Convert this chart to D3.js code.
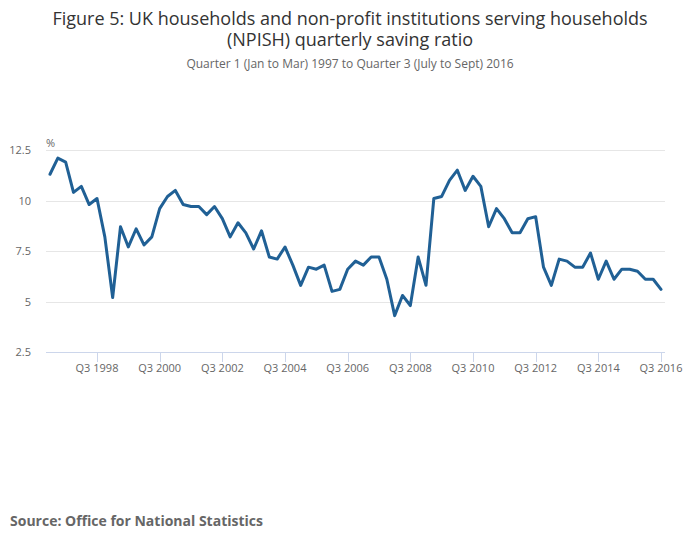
<!DOCTYPE html>
<html><head><meta charset="utf-8">
<script src="https://cdn.jsdelivr.net/npm/d3@7"></script>
<style>body{margin:0;background:#fff}svg{display:block;font-family:"Open Sans",sans-serif}</style>
</head><body><svg id="c" width="700" height="549"></svg>
<script>
const startYear = 1997;
const savingRatio = [
11.3,12.1,11.9,10.4,10.7,9.8,10.1,8.2,5.2,8.7,7.7,8.6,7.8,8.2,9.6,10.2,10.5,9.8,9.7,9.7,
9.3,9.7,9.1,8.2,8.9,8.4,7.6,8.5,7.2,7.1,7.7,6.8,5.8,6.7,6.6,6.8,5.5,5.6,6.6,7.0,
6.8,7.2,7.2,6.1,4.3,5.3,4.8,7.2,5.8,10.1,10.2,11.0,11.5,10.5,11.2,10.7,8.7,9.6,9.1,8.4,
8.4,9.1,9.2,6.7,5.8,7.1,7.0,6.7,6.7,7.4,6.1,7.0,6.1,6.6,6.6,6.5,6.1,6.1,5.6
];
const quarters = savingRatio.map((d,i)=>"Q"+(i%4+1)+" "+(startYear+Math.floor(i/4)));
const yTicks = [2.5,5,7.5,10,12.5];
const xTickLabels = ["Q3 1998","Q3 2000","Q3 2002","Q3 2004","Q3 2006","Q3 2008","Q3 2010","Q3 2012","Q3 2014","Q3 2016"];
const titleLines = ["Figure 5: UK households and non-profit institutions serving households","(NPISH) quarterly saving ratio"];

(function(){
const svg = d3.select("#c");
const pl=46, pr=665, pt=150, pb=352;
const step=(661-50)/78;
const x = d3.scalePoint().domain(quarters).range([50, 50+step*78]);
const y = d3.scaleLinear().domain([2.5,12.5]).range([pb, pt]);

const title = svg.append("text").attr("text-anchor","middle").attr("font-size",18).attr("fill","#333");
title.selectAll("tspan").data(titleLines).join("tspan")
  .attr("x",350).attr("y",(d,i)=>25+i*21).text(d=>d);
svg.append("text").attr("x",350).attr("y",68).attr("text-anchor","middle")
  .attr("font-size",12).attr("fill","#666").text("Quarter 1 (Jan to Mar) 1997 to Quarter 3 (July to Sept) 2016");

svg.append("g").selectAll("line").data(yTicks.filter(t=>t>2.5)).join("line")
  .attr("x1",pl).attr("x2",pr).attr("y1",d=>Math.round(y(d))+0.5).attr("y2",d=>Math.round(y(d))+0.5)
  .attr("stroke","#e6e6e6").attr("stroke-width",1);
svg.append("g").selectAll("text").data(yTicks).join("text")
  .attr("x",31).attr("y",d=>y(d)+4).attr("text-anchor","end")
  .attr("font-size",11).attr("fill","#666").text(d=>d);
svg.append("text").attr("x",46).attr("y",147).attr("font-size",11).attr("fill","#666").text("%");

svg.append("line").attr("x1",pl).attr("x2",pr).attr("y1",pb+0.5).attr("y2",pb+0.5)
  .attr("stroke","#ccd6eb");
const xg = svg.append("g");
xg.selectAll("line").data(xTickLabels).join("line")
  .attr("x1",d=>Math.round(x(d))+0.5).attr("x2",d=>Math.round(x(d))+0.5)
  .attr("y1",pb).attr("y2",pb+10).attr("stroke","#ccd6eb");
xg.selectAll("text").data(xTickLabels).join("text")
  .attr("x",d=>x(d)).attr("y",pb+20).attr("text-anchor","middle")
  .attr("font-size",11).attr("fill","#666").text(d=>d);

svg.append("path").datum(savingRatio)
  .attr("d", d3.line().x((d,i)=>x(quarters[i])).y(d=>y(d)))
  .attr("fill","none").attr("stroke","#206095").attr("stroke-width",3)
  .attr("stroke-linejoin","round").attr("stroke-linecap","round");

svg.append("text").attr("x",10).attr("y",526).attr("font-size",14).attr("font-weight","bold")
  .attr("fill","#666").text("Source: Office for National Statistics");
})();
</script></body></html>
